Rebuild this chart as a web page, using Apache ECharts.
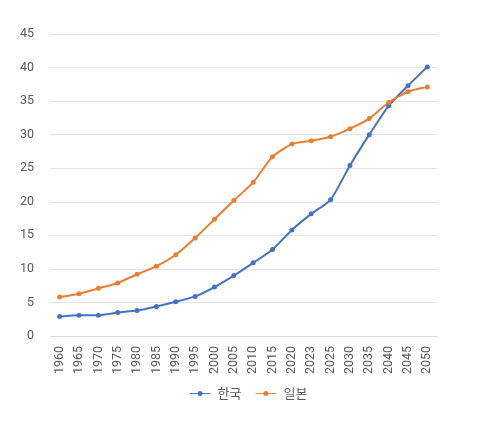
<!DOCTYPE html>
<html><head><meta charset="utf-8">
<script src="https://cdn.jsdelivr.net/npm/echarts@6/dist/echarts.min.js"></script>
<style>html,body{margin:0;padding:0;background:#fff}#c{width:497px;height:431px}</style>
</head><body><div id="c"></div>
<script>
const categories = ['1960','1965','1970','1975','1980','1985','1990','1995','2000','2005','2010','2015','2020','2023','2025','2030','2035','2040','2045','2050'];
const korea = [2.9,3.1,3.1,3.5,3.8,4.4,5.1,5.9,7.3,9.0,10.9,12.9,15.8,18.2,20.3,25.4,30.0,34.3,37.3,40.1];
const japan = [5.8,6.3,7.1,7.9,9.2,10.4,12.1,14.6,17.4,20.2,22.9,26.7,28.6,29.1,29.7,30.9,32.4,34.8,36.4,37.1];
const seriesNames = ['한국','일본'];
const chart = echarts.init(document.getElementById('c'));
const font = 'Roboto, "Noto Sans CJK KR", sans-serif';
const icon = 'path://M0,2.4 L25,2.4 L25,3.6 L0,3.6 Z M15.5,3 A3,3 0 1 1 9.5,3 A3,3 0 1 1 15.5,3 Z';
chart.setOption({
  animation:false,
  textStyle:{fontFamily:font},
  grid:{left:50,right:60,top:34,bottom:95},
  legend:{bottom:26,left:'center',itemWidth:25,itemHeight:5,itemGap:14,
    textStyle:{fontSize:13,color:'#595959',fontFamily:'"Noto Sans CJK KR", sans-serif'},
    data:seriesNames.map(n=>({name:n,icon:icon}))},
  xAxis:{type:'category',data:categories,boundaryGap:true,
    axisLine:{lineStyle:{color:'#d9d9d9'}},axisTick:{show:false},
    axisLabel:{rotate:90,fontSize:12.5,color:'#595959',margin:10,interval:0}},
  yAxis:{type:'value',min:0,max:45,interval:5,
    axisLine:{show:false},axisTick:{show:false},
    splitLine:{lineStyle:{color:'#e6e6e6'}},
    axisLabel:{fontSize:12.5,color:'#595959',margin:16}},
  series:[
    {name:seriesNames[0],type:'line',data:korea,smooth:0.2,symbol:'circle',symbolSize:5,
      lineStyle:{width:2,color:'#4472C4'},itemStyle:{color:'#4472C4'}},
    {name:seriesNames[1],type:'line',data:japan,smooth:0.2,symbol:'circle',symbolSize:5,
      lineStyle:{width:2,color:'#ED7D31'},itemStyle:{color:'#ED7D31'}}
  ]
});
</script></body></html>
